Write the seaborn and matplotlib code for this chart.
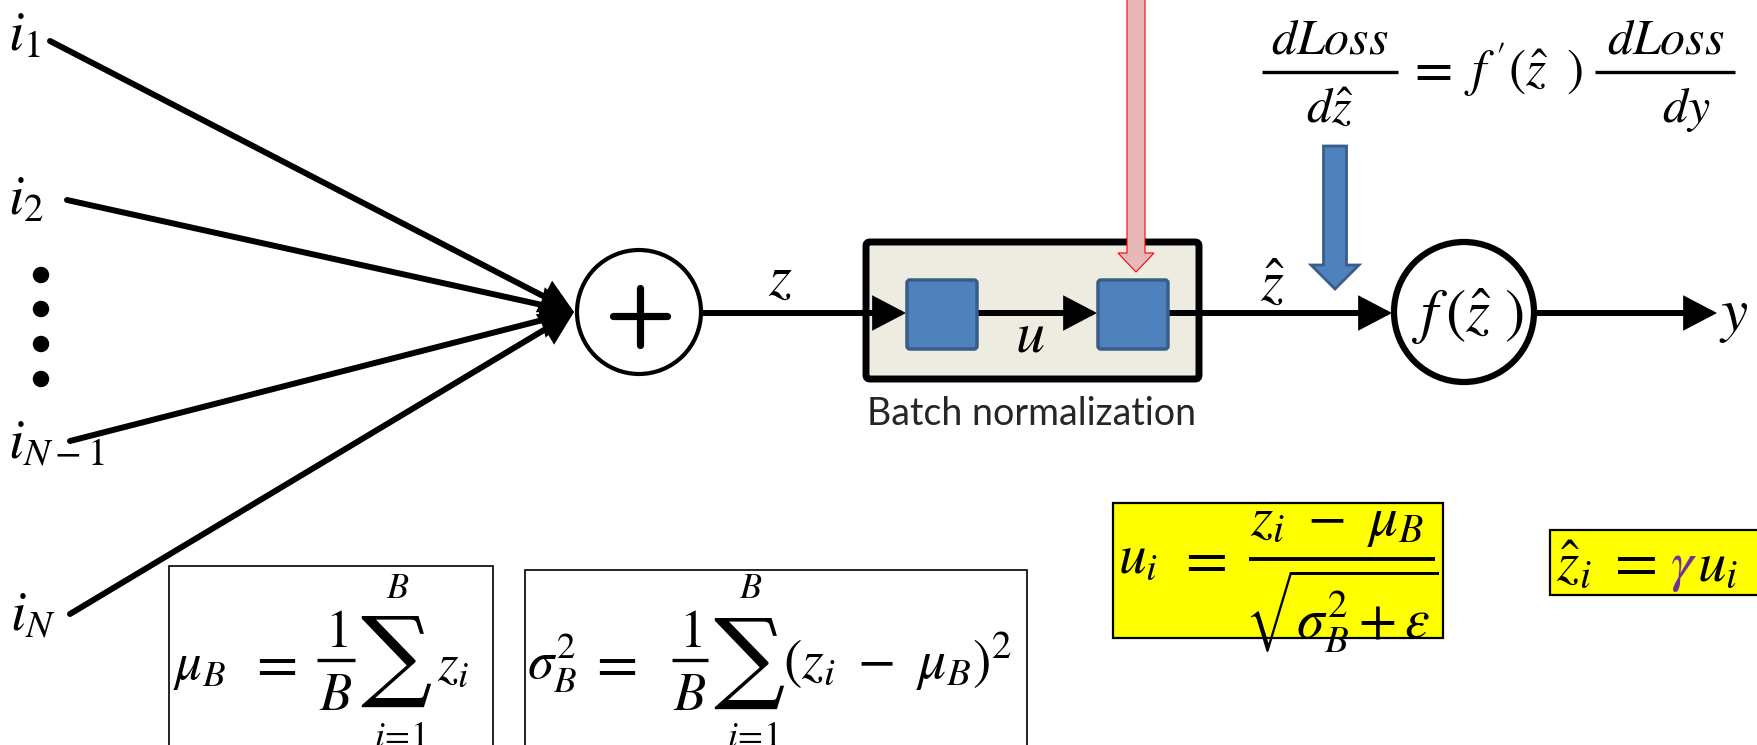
import matplotlib
matplotlib.use("Agg")
import matplotlib.pyplot as plt
import seaborn as sns
from matplotlib.patches import Circle, Rectangle, FancyBboxPatch, FancyArrow, FancyArrowPatch, ArrowStyle

# text content of the diagram
input_labels = [r"$i_1$", r"$i_2$", r"$i_{N-1}$", r"$i_N$"]
n_hidden_dots = 4
signal_labels = {"z": r"$z$", "u": r"$u$", "zhat": r"$\hat{z}$", "y": r"$y$"}
activation_label = r"$f\,(\hat{z}\ )$"
bn_caption = "Batch normalization"
grad_lhs = (r"$dLoss$", r"$d\hat{z}$")
grad_mid = r"$f^{\,\prime}(\hat{z}\;\;)$"
grad_rhs = (r"$dLoss$", r"$dy$")
mean_parts = (r"$\mu_B$", r"$z_i$")
var_parts = (r"$\sigma_B^2$", r"$(z_i\ -\ \mu_B)^2$")
norm_parts = (r"$u_i$", r"$z_i\ -\ \mu_B$", r"$\sqrt{\sigma_B^2+\epsilon}$")
scale_parts = [(r"$\hat{z}_i$", "black"), (r"$=$", "black"), (r"$\gamma$", "#7030A0"), (r"$u_i$", "black")]
sum_glyph = "\u2211"

# layout (pixel coords, y down)
W, H = 1758, 745
input_start = [(50, 41), (67, 200), (70, 441), (70, 614)]
label_pos = [(8, 50), (8, 214), (8, 458), (10, 630)]
dot_x, dot_y = 41, [275, 309, 344, 379]
sum_c, sum_r = (639, 312), 62
act_c, act_r = (1464, 312), 70
line_y = 313

sns.set_style("white")
plt.rcParams["mathtext.fontset"] = "stix"
plt.rcParams["font.family"] = ["Lato", "DejaVu Sans"]

fig = plt.figure(figsize=(W / 100, H / 100), dpi=100)
ax = fig.add_axes([0, 0, 1, 1])
ax.set_xlim(0, W)
ax.set_ylim(H, 0)
ax.axis("off")

lw_line = 4.3
head = ArrowStyle("-|>", head_length=0.8, head_width=0.42)


def arrow(p0, p1, z=5):
    ax.add_patch(FancyArrowPatch(p0, p1, arrowstyle=head, mutation_scale=22,
                                 lw=lw_line, color="black", shrinkA=0, shrinkB=0,
                                 joinstyle="miter", zorder=z))


def mt(x, y, s, size, ha="left", va="baseline", color="black", z=10, **kw):
    return ax.text(x, y, s, fontsize=size, ha=ha, va=va, color=color, zorder=z, **kw)


def frac(xc, x0, x1, bar_y, num, den, num_base, den_base, size, lw=2.4, den_x=None):
    ax.plot([x0, x1], [bar_y, bar_y], color="black", lw=lw, solid_capstyle="butt", zorder=10)
    mt(xc, num_base, num, size, ha="center")
    mt(den_x or xc, den_base, den, size, ha="center")


def big_sum(xc, mid, lim_size=26):
    mt(xc, mid, sum_glyph, 72, ha="center", va="center", family="DejaVu Serif")
    mt(xc + 2, 598, r"$B$", lim_size, ha="center")
    mt(xc + 4, 720, r"$i\!=\!1$", lim_size, ha="center", va="top")


# inputs
for (x0, y0), lab, (lx, ly) in zip(input_start, input_labels, label_pos):
    arrow((x0, y0), (sum_c[0] - sum_r - 3, sum_c[1]))
    mt(lx, ly, lab, 40)
sns.scatterplot(x=[dot_x] * n_hidden_dots, y=dot_y, s=140, color="black",
                edgecolor="none", ax=ax, legend=False)

# summation node
ax.add_patch(Circle(sum_c, sum_r, fc="white", ec="black", lw=3, zorder=6))
ax.plot([613, 667], [316, 316], color="black", lw=5.2, solid_capstyle="round", zorder=7)
ax.plot([640, 640], [288, 345], color="black", lw=5.2, solid_capstyle="round", zorder=7)

# batch norm block
ax.add_patch(FancyBboxPatch((866, 242), 333, 137, boxstyle="round,pad=0,rounding_size=4",
                            fc="#EEECE1", ec="black", lw=5, zorder=2))
for x0 in [905, 1096]:
    ax.add_patch(FancyBboxPatch((x0 + 2, 280), 70, 69, boxstyle="round,pad=0,rounding_size=3",
                                fc="#4F81BD", ec="#385D8A", lw=2.5, zorder=8))
ax.text(1032, 425, bn_caption, fontsize=27, ha="center", va="baseline")

arrow((sum_c[0] + sum_r, line_y), (906, line_y))
arrow((978, line_y), (1097, line_y))
arrow((1170, line_y), (act_c[0] - act_r - 2, line_y))
arrow((act_c[0] + act_r, line_y), (1717, line_y))

mt(780, 295, signal_labels["z"], 42, ha="center")
mt(1030, 352, signal_labels["u"], 42, ha="center")
mt(1272, 300, signal_labels["zhat"], 42, ha="center")
mt(1719, 330, signal_labels["y"], 44)

# activation node
ax.add_patch(Circle(act_c, act_r, fc="white", ec="black", lw=4.5, zorder=6))
mt(act_c[0] + 4, act_c[1] + 5, activation_label, 44, ha="center", va="center")

# gradient arrows
ax.add_patch(FancyArrow(1136, -10, 0, 282, width=18, head_width=36, head_length=19,
                        length_includes_head=True, fc="#E6B9B8", ec="red", lw=0.8, zorder=9))
ax.add_patch(FancyArrow(1335, 146, 0, 143, width=23, head_width=48, head_length=24,
                        length_includes_head=True, fc="#4F81BD", ec="#385D8A", lw=2, zorder=9))

# dLoss/dzhat = f'(zhat) dLoss/dy
frac(1330, 1262, 1398, 72, grad_lhs[0], grad_lhs[1], 53, 122, 36)
mt(1429, 85, r"$=$", 40, ha="center")
mt(1464, 86, grad_mid, 37)
frac(1666, 1595, 1735, 72, grad_rhs[0], grad_rhs[1], 53, 122, 36, den_x=1686)

# statistics boxes
ax.add_patch(Rectangle((169, 566), 324, 200, fc="white", ec="black", lw=1.2))
mt(173, 679, mean_parts[0], 38)
mt(272, 680, r"$=$", 43, ha="center")
frac(336, 317, 355, 660, r"$1$", r"$B$", 647, 710, 38)
big_sum(396, 661)
mt(437, 680, mean_parts[1], 38)

ax.add_patch(Rectangle((525, 570), 502, 200, fc="white", ec="black", lw=1.2))
mt(527, 679, var_parts[0], 38)
mt(612, 680, r"$=$", 43, ha="center")
frac(690, 672, 708, 660, r"$1$", r"$B$", 647, 710, 38)
big_sum(749, 663)
mt(783, 679, var_parts[1], 40)

# normalisation / scaling (yellow)
ax.add_patch(Rectangle((1113, 503), 330, 135, fc="#FFFF00", ec="black", lw=1.6))
mt(1118, 572, norm_parts[0], 40)
mt(1202, 576, r"$=$", 44, ha="center")
ax.plot([1249, 1435], [559, 559], color="black", lw=2.8, solid_capstyle="butt", zorder=10)
mt(1337, 535, norm_parts[1], 41, ha="center")
mt(1342, 568, norm_parts[2], 40, ha="center", va="top")

ax.add_patch(Rectangle((1550, 530), 240, 65, fc="#FFFF00", ec="black", lw=1.6))
for (txt, col), x, ha, fs in zip(scale_parts, [1556, 1630, 1683, 1697],
                                 ["left", "center", "center", "left"], [41, 45, 41, 41]):
    mt(x, 580, txt, fs, color=col, ha=ha)

fig.savefig("out.png", dpi=100)
